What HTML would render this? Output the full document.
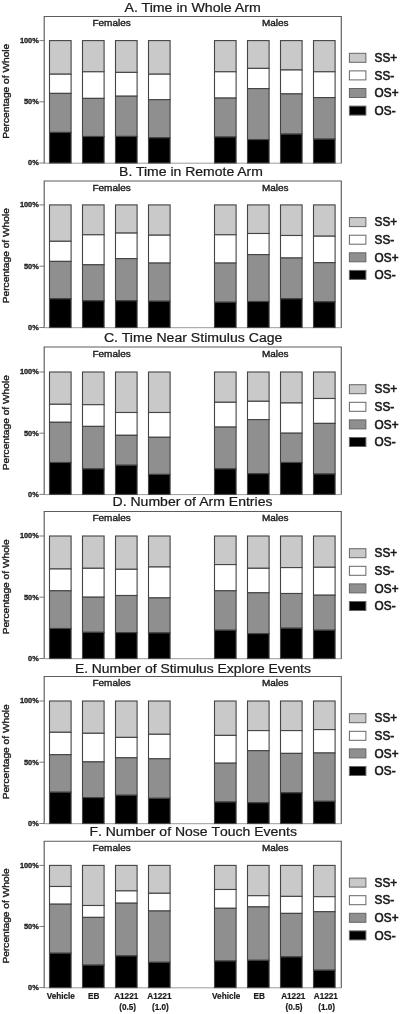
<!DOCTYPE html>
<html lang="en"><head><meta charset="utf-8"><title>Figure</title>
<style>html,body{margin:0;padding:0;background:#fff}svg{display:block;filter:blur(0.4px)}text{font-family:"Liberation Sans",sans-serif;fill:#1a1a1a;stroke:#1a1a1a;stroke-width:0.4px}.ti{font-size:14.2px;stroke-width:0.25px;text-anchor:middle}.sx{font-size:10px;text-anchor:middle}.yl{font-size:10.2px;text-anchor:middle}.yt{font-size:7.4px;stroke-width:0.3px;font-weight:bold;text-anchor:end}.lg{font-size:11.8px;stroke-width:0.6px}.xl{font-size:8.2px;stroke-width:0.2px;font-weight:bold;text-anchor:middle}</style></head><body>
<svg width="400" height="1014" viewBox="0 0 400 1014">
<rect width="400" height="1014" fill="#fff"/>
<g>
<text class="ti" style="font-size:14.2px" transform="translate(192.6,11.6) scale(1,0.94)">A. Time in Whole Arm</text>
<path d="M44.2 163.4V16.5H341.3V163.4" fill="none" stroke="#5c5c5c" stroke-width="1.15"/>
<line x1="44.2" x2="341.3" y1="163.2" y2="163.2" stroke="#9c9c9c" stroke-width="1"/>
<line x1="39.4" x2="44.2" y1="40.6" y2="40.6" stroke="#5c5c5c" stroke-width="0.8"/>
<text class="yt" x="38.8" y="42.9">100%</text>
<line x1="39.4" x2="44.2" y1="101.8" y2="101.8" stroke="#5c5c5c" stroke-width="0.8"/>
<text class="yt" x="38.8" y="104.1">50%</text>
<line x1="39.4" x2="44.2" y1="163.0" y2="163.0" stroke="#5c5c5c" stroke-width="0.8"/>
<text class="yt" x="38.8" y="165.3">0%</text>
<text class="yl" transform="translate(9.3,91.3) rotate(-90) scale(1,0.9)">Percentage of Whole</text>
<text class="sx" transform="translate(111.6,26.3) scale(1,0.89)">Females</text>
<text class="sx" transform="translate(275.2,26.3) scale(1,0.89)">Males</text>
<rect x="49.5" y="40.6" width="21.6" height="33.6" fill="#c9c9c9" stroke="#444" stroke-width="1.1"/>
<rect x="49.5" y="74.2" width="21.6" height="19.2" fill="#ffffff" stroke="#444" stroke-width="1.1"/>
<rect x="49.5" y="93.4" width="21.6" height="39.0" fill="#8f8f8f" stroke="#444" stroke-width="1.1"/>
<rect x="49.5" y="132.4" width="21.6" height="30.6" fill="#000000" stroke="#444" stroke-width="1.1"/>
<rect x="82.5" y="40.6" width="21.6" height="31.2" fill="#c9c9c9" stroke="#444" stroke-width="1.1"/>
<rect x="82.5" y="71.8" width="21.6" height="26.6" fill="#ffffff" stroke="#444" stroke-width="1.1"/>
<rect x="82.5" y="98.4" width="21.6" height="38.1" fill="#8f8f8f" stroke="#444" stroke-width="1.1"/>
<rect x="82.5" y="136.5" width="21.6" height="26.5" fill="#000000" stroke="#444" stroke-width="1.1"/>
<rect x="115.5" y="40.6" width="21.6" height="31.8" fill="#c9c9c9" stroke="#444" stroke-width="1.1"/>
<rect x="115.5" y="72.4" width="21.6" height="23.8" fill="#ffffff" stroke="#444" stroke-width="1.1"/>
<rect x="115.5" y="96.2" width="21.6" height="40.2" fill="#8f8f8f" stroke="#444" stroke-width="1.1"/>
<rect x="115.5" y="136.4" width="21.6" height="26.6" fill="#000000" stroke="#444" stroke-width="1.1"/>
<rect x="148.5" y="40.6" width="21.6" height="33.6" fill="#c9c9c9" stroke="#444" stroke-width="1.1"/>
<rect x="148.5" y="74.2" width="21.6" height="25.5" fill="#ffffff" stroke="#444" stroke-width="1.1"/>
<rect x="148.5" y="99.7" width="21.6" height="38.1" fill="#8f8f8f" stroke="#444" stroke-width="1.1"/>
<rect x="148.5" y="137.8" width="21.6" height="25.2" fill="#000000" stroke="#444" stroke-width="1.1"/>
<rect x="214.5" y="40.6" width="21.6" height="31.2" fill="#c9c9c9" stroke="#444" stroke-width="1.1"/>
<rect x="214.5" y="71.8" width="21.6" height="26.3" fill="#ffffff" stroke="#444" stroke-width="1.1"/>
<rect x="214.5" y="98.1" width="21.6" height="38.9" fill="#8f8f8f" stroke="#444" stroke-width="1.1"/>
<rect x="214.5" y="137.0" width="21.6" height="26.0" fill="#000000" stroke="#444" stroke-width="1.1"/>
<rect x="247.5" y="40.6" width="21.6" height="27.8" fill="#c9c9c9" stroke="#444" stroke-width="1.1"/>
<rect x="247.5" y="68.4" width="21.6" height="20.2" fill="#ffffff" stroke="#444" stroke-width="1.1"/>
<rect x="247.5" y="88.6" width="21.6" height="51.0" fill="#8f8f8f" stroke="#444" stroke-width="1.1"/>
<rect x="247.5" y="139.6" width="21.6" height="23.4" fill="#000000" stroke="#444" stroke-width="1.1"/>
<rect x="280.5" y="40.6" width="21.6" height="29.4" fill="#c9c9c9" stroke="#444" stroke-width="1.1"/>
<rect x="280.5" y="70.0" width="21.6" height="23.9" fill="#ffffff" stroke="#444" stroke-width="1.1"/>
<rect x="280.5" y="93.9" width="21.6" height="40.2" fill="#8f8f8f" stroke="#444" stroke-width="1.1"/>
<rect x="280.5" y="134.1" width="21.6" height="28.9" fill="#000000" stroke="#444" stroke-width="1.1"/>
<rect x="313.5" y="40.6" width="21.6" height="31.2" fill="#c9c9c9" stroke="#444" stroke-width="1.1"/>
<rect x="313.5" y="71.8" width="21.6" height="25.8" fill="#ffffff" stroke="#444" stroke-width="1.1"/>
<rect x="313.5" y="97.6" width="21.6" height="41.5" fill="#8f8f8f" stroke="#444" stroke-width="1.1"/>
<rect x="313.5" y="139.1" width="21.6" height="23.9" fill="#000000" stroke="#444" stroke-width="1.1"/>
<rect x="349.4" y="53.3" width="16.5" height="9.0" fill="#c9c9c9" stroke="#666" stroke-width="1"/>
<text class="lg" transform="translate(374.6,62.0) scale(1,1.07)">SS+</text>
<rect x="349.4" y="70.9" width="16.5" height="9.0" fill="#ffffff" stroke="#666" stroke-width="1"/>
<text class="lg" transform="translate(374.6,79.6) scale(1,1.07)">SS-</text>
<rect x="349.4" y="88.5" width="16.5" height="9.0" fill="#8f8f8f" stroke="#666" stroke-width="1"/>
<text class="lg" transform="translate(374.6,97.2) scale(1,1.07)">OS+</text>
<rect x="349.4" y="106.1" width="16.5" height="9.0" fill="#000000" stroke="#666" stroke-width="1"/>
<text class="lg" transform="translate(374.6,114.8) scale(1,1.07)">OS-</text>
</g>
<g>
<text class="ti" style="font-size:14.0px" transform="translate(191,175.8) scale(1,0.94)">B. Time in Remote Arm</text>
<path d="M44.2 327.9V181.0H341.3V327.9" fill="none" stroke="#5c5c5c" stroke-width="1.15"/>
<line x1="44.2" x2="341.3" y1="327.7" y2="327.7" stroke="#9c9c9c" stroke-width="1"/>
<line x1="39.4" x2="44.2" y1="204.9" y2="204.9" stroke="#5c5c5c" stroke-width="0.8"/>
<text class="yt" x="38.8" y="207.2">100%</text>
<line x1="39.4" x2="44.2" y1="266.2" y2="266.2" stroke="#5c5c5c" stroke-width="0.8"/>
<text class="yt" x="38.8" y="268.5">50%</text>
<line x1="39.4" x2="44.2" y1="327.5" y2="327.5" stroke="#5c5c5c" stroke-width="0.8"/>
<text class="yt" x="38.8" y="329.8">0%</text>
<text class="yl" transform="translate(9.3,255.7) rotate(-90) scale(1,0.9)">Percentage of Whole</text>
<text class="sx" transform="translate(111.6,190.8) scale(1,0.89)">Females</text>
<text class="sx" transform="translate(275.2,190.8) scale(1,0.89)">Males</text>
<rect x="49.5" y="204.9" width="21.6" height="36.4" fill="#c9c9c9" stroke="#444" stroke-width="1.1"/>
<rect x="49.5" y="241.3" width="21.6" height="20.1" fill="#ffffff" stroke="#444" stroke-width="1.1"/>
<rect x="49.5" y="261.4" width="21.6" height="37.4" fill="#8f8f8f" stroke="#444" stroke-width="1.1"/>
<rect x="49.5" y="298.8" width="21.6" height="28.7" fill="#000000" stroke="#444" stroke-width="1.1"/>
<rect x="82.5" y="204.9" width="21.6" height="29.9" fill="#c9c9c9" stroke="#444" stroke-width="1.1"/>
<rect x="82.5" y="234.8" width="21.6" height="30.0" fill="#ffffff" stroke="#444" stroke-width="1.1"/>
<rect x="82.5" y="264.8" width="21.6" height="36.0" fill="#8f8f8f" stroke="#444" stroke-width="1.1"/>
<rect x="82.5" y="300.8" width="21.6" height="26.7" fill="#000000" stroke="#444" stroke-width="1.1"/>
<rect x="115.5" y="204.9" width="21.6" height="28.2" fill="#c9c9c9" stroke="#444" stroke-width="1.1"/>
<rect x="115.5" y="233.1" width="21.6" height="25.5" fill="#ffffff" stroke="#444" stroke-width="1.1"/>
<rect x="115.5" y="258.6" width="21.6" height="42.2" fill="#8f8f8f" stroke="#444" stroke-width="1.1"/>
<rect x="115.5" y="300.8" width="21.6" height="26.7" fill="#000000" stroke="#444" stroke-width="1.1"/>
<rect x="148.5" y="204.9" width="21.6" height="30.3" fill="#c9c9c9" stroke="#444" stroke-width="1.1"/>
<rect x="148.5" y="235.2" width="21.6" height="27.9" fill="#ffffff" stroke="#444" stroke-width="1.1"/>
<rect x="148.5" y="263.1" width="21.6" height="38.1" fill="#8f8f8f" stroke="#444" stroke-width="1.1"/>
<rect x="148.5" y="301.2" width="21.6" height="26.3" fill="#000000" stroke="#444" stroke-width="1.1"/>
<rect x="214.5" y="204.9" width="21.6" height="29.9" fill="#c9c9c9" stroke="#444" stroke-width="1.1"/>
<rect x="214.5" y="234.8" width="21.6" height="28.3" fill="#ffffff" stroke="#444" stroke-width="1.1"/>
<rect x="214.5" y="263.1" width="21.6" height="39.1" fill="#8f8f8f" stroke="#444" stroke-width="1.1"/>
<rect x="214.5" y="302.2" width="21.6" height="25.3" fill="#000000" stroke="#444" stroke-width="1.1"/>
<rect x="247.5" y="204.9" width="21.6" height="28.6" fill="#c9c9c9" stroke="#444" stroke-width="1.1"/>
<rect x="247.5" y="233.5" width="21.6" height="21.1" fill="#ffffff" stroke="#444" stroke-width="1.1"/>
<rect x="247.5" y="254.6" width="21.6" height="46.9" fill="#8f8f8f" stroke="#444" stroke-width="1.1"/>
<rect x="247.5" y="301.5" width="21.6" height="26.0" fill="#000000" stroke="#444" stroke-width="1.1"/>
<rect x="280.5" y="204.9" width="21.6" height="30.6" fill="#c9c9c9" stroke="#444" stroke-width="1.1"/>
<rect x="280.5" y="235.5" width="21.6" height="22.5" fill="#ffffff" stroke="#444" stroke-width="1.1"/>
<rect x="280.5" y="258.0" width="21.6" height="40.8" fill="#8f8f8f" stroke="#444" stroke-width="1.1"/>
<rect x="280.5" y="298.8" width="21.6" height="28.7" fill="#000000" stroke="#444" stroke-width="1.1"/>
<rect x="313.5" y="204.9" width="21.6" height="31.3" fill="#c9c9c9" stroke="#444" stroke-width="1.1"/>
<rect x="313.5" y="236.2" width="21.6" height="26.5" fill="#ffffff" stroke="#444" stroke-width="1.1"/>
<rect x="313.5" y="262.7" width="21.6" height="39.1" fill="#8f8f8f" stroke="#444" stroke-width="1.1"/>
<rect x="313.5" y="301.8" width="21.6" height="25.7" fill="#000000" stroke="#444" stroke-width="1.1"/>
<rect x="349.4" y="217.6" width="16.5" height="9.0" fill="#c9c9c9" stroke="#666" stroke-width="1"/>
<text class="lg" transform="translate(374.6,226.3) scale(1,1.07)">SS+</text>
<rect x="349.4" y="235.2" width="16.5" height="9.0" fill="#ffffff" stroke="#666" stroke-width="1"/>
<text class="lg" transform="translate(374.6,243.9) scale(1,1.07)">SS-</text>
<rect x="349.4" y="252.8" width="16.5" height="9.0" fill="#8f8f8f" stroke="#666" stroke-width="1"/>
<text class="lg" transform="translate(374.6,261.5) scale(1,1.07)">OS+</text>
<rect x="349.4" y="270.4" width="16.5" height="9.0" fill="#000000" stroke="#666" stroke-width="1"/>
<text class="lg" transform="translate(374.6,279.1) scale(1,1.07)">OS-</text>
</g>
<g>
<text class="ti" style="font-size:14.1px" transform="translate(193.2,341.6) scale(1,0.94)">C. Time Near Stimulus Cage</text>
<path d="M44.2 494.8V347.0H341.3V494.8" fill="none" stroke="#5c5c5c" stroke-width="1.15"/>
<line x1="44.2" x2="341.3" y1="494.6" y2="494.6" stroke="#9c9c9c" stroke-width="1"/>
<line x1="39.4" x2="44.2" y1="372.0" y2="372.0" stroke="#5c5c5c" stroke-width="0.8"/>
<text class="yt" x="38.8" y="374.3">100%</text>
<line x1="39.4" x2="44.2" y1="433.2" y2="433.2" stroke="#5c5c5c" stroke-width="0.8"/>
<text class="yt" x="38.8" y="435.5">50%</text>
<line x1="39.4" x2="44.2" y1="494.4" y2="494.4" stroke="#5c5c5c" stroke-width="0.8"/>
<text class="yt" x="38.8" y="496.7">0%</text>
<text class="yl" transform="translate(9.3,422.7) rotate(-90) scale(1,0.9)">Percentage of Whole</text>
<text class="sx" transform="translate(111.6,356.8) scale(1,0.89)">Females</text>
<text class="sx" transform="translate(275.2,356.8) scale(1,0.89)">Males</text>
<rect x="49.5" y="372.0" width="21.6" height="32.3" fill="#c9c9c9" stroke="#444" stroke-width="1.1"/>
<rect x="49.5" y="404.3" width="21.6" height="18.0" fill="#ffffff" stroke="#444" stroke-width="1.1"/>
<rect x="49.5" y="422.3" width="21.6" height="40.2" fill="#8f8f8f" stroke="#444" stroke-width="1.1"/>
<rect x="49.5" y="462.5" width="21.6" height="31.9" fill="#000000" stroke="#444" stroke-width="1.1"/>
<rect x="82.5" y="372.0" width="21.6" height="32.7" fill="#c9c9c9" stroke="#444" stroke-width="1.1"/>
<rect x="82.5" y="404.7" width="21.6" height="21.7" fill="#ffffff" stroke="#444" stroke-width="1.1"/>
<rect x="82.5" y="426.4" width="21.6" height="42.5" fill="#8f8f8f" stroke="#444" stroke-width="1.1"/>
<rect x="82.5" y="468.9" width="21.6" height="25.5" fill="#000000" stroke="#444" stroke-width="1.1"/>
<rect x="115.5" y="372.0" width="21.6" height="40.5" fill="#c9c9c9" stroke="#444" stroke-width="1.1"/>
<rect x="115.5" y="412.5" width="21.6" height="22.8" fill="#ffffff" stroke="#444" stroke-width="1.1"/>
<rect x="115.5" y="435.3" width="21.6" height="29.9" fill="#8f8f8f" stroke="#444" stroke-width="1.1"/>
<rect x="115.5" y="465.2" width="21.6" height="29.2" fill="#000000" stroke="#444" stroke-width="1.1"/>
<rect x="148.5" y="372.0" width="21.6" height="40.5" fill="#c9c9c9" stroke="#444" stroke-width="1.1"/>
<rect x="148.5" y="412.5" width="21.6" height="24.8" fill="#ffffff" stroke="#444" stroke-width="1.1"/>
<rect x="148.5" y="437.3" width="21.6" height="37.1" fill="#8f8f8f" stroke="#444" stroke-width="1.1"/>
<rect x="148.5" y="474.4" width="21.6" height="20.0" fill="#000000" stroke="#444" stroke-width="1.1"/>
<rect x="214.5" y="372.0" width="21.6" height="30.3" fill="#c9c9c9" stroke="#444" stroke-width="1.1"/>
<rect x="214.5" y="402.3" width="21.6" height="24.8" fill="#ffffff" stroke="#444" stroke-width="1.1"/>
<rect x="214.5" y="427.1" width="21.6" height="41.8" fill="#8f8f8f" stroke="#444" stroke-width="1.1"/>
<rect x="214.5" y="468.9" width="21.6" height="25.5" fill="#000000" stroke="#444" stroke-width="1.1"/>
<rect x="247.5" y="372.0" width="21.6" height="29.3" fill="#c9c9c9" stroke="#444" stroke-width="1.1"/>
<rect x="247.5" y="401.3" width="21.6" height="18.3" fill="#ffffff" stroke="#444" stroke-width="1.1"/>
<rect x="247.5" y="419.6" width="21.6" height="54.1" fill="#8f8f8f" stroke="#444" stroke-width="1.1"/>
<rect x="247.5" y="473.7" width="21.6" height="20.7" fill="#000000" stroke="#444" stroke-width="1.1"/>
<rect x="280.5" y="372.0" width="21.6" height="31.0" fill="#c9c9c9" stroke="#444" stroke-width="1.1"/>
<rect x="280.5" y="403.0" width="21.6" height="30.2" fill="#ffffff" stroke="#444" stroke-width="1.1"/>
<rect x="280.5" y="433.2" width="21.6" height="29.3" fill="#8f8f8f" stroke="#444" stroke-width="1.1"/>
<rect x="280.5" y="462.5" width="21.6" height="31.9" fill="#000000" stroke="#444" stroke-width="1.1"/>
<rect x="313.5" y="372.0" width="21.6" height="26.5" fill="#c9c9c9" stroke="#444" stroke-width="1.1"/>
<rect x="313.5" y="398.5" width="21.6" height="24.9" fill="#ffffff" stroke="#444" stroke-width="1.1"/>
<rect x="313.5" y="423.4" width="21.6" height="50.6" fill="#8f8f8f" stroke="#444" stroke-width="1.1"/>
<rect x="313.5" y="474.0" width="21.6" height="20.4" fill="#000000" stroke="#444" stroke-width="1.1"/>
<rect x="349.4" y="384.7" width="16.5" height="9.0" fill="#c9c9c9" stroke="#666" stroke-width="1"/>
<text class="lg" transform="translate(374.6,393.4) scale(1,1.07)">SS+</text>
<rect x="349.4" y="402.3" width="16.5" height="9.0" fill="#ffffff" stroke="#666" stroke-width="1"/>
<text class="lg" transform="translate(374.6,411.0) scale(1,1.07)">SS-</text>
<rect x="349.4" y="419.9" width="16.5" height="9.0" fill="#8f8f8f" stroke="#666" stroke-width="1"/>
<text class="lg" transform="translate(374.6,428.6) scale(1,1.07)">OS+</text>
<rect x="349.4" y="437.5" width="16.5" height="9.0" fill="#000000" stroke="#666" stroke-width="1"/>
<text class="lg" transform="translate(374.6,446.2) scale(1,1.07)">OS-</text>
</g>
<g>
<text class="ti" style="font-size:14.05px" transform="translate(192.5,506.3) scale(1,0.94)">D. Number of Arm Entries</text>
<path d="M44.2 658.9V511.5H341.3V658.9" fill="none" stroke="#5c5c5c" stroke-width="1.15"/>
<line x1="44.2" x2="341.3" y1="658.7" y2="658.7" stroke="#9c9c9c" stroke-width="1"/>
<line x1="39.4" x2="44.2" y1="536.0" y2="536.0" stroke="#5c5c5c" stroke-width="0.8"/>
<text class="yt" x="38.8" y="538.3">100%</text>
<line x1="39.4" x2="44.2" y1="597.2" y2="597.2" stroke="#5c5c5c" stroke-width="0.8"/>
<text class="yt" x="38.8" y="599.5">50%</text>
<line x1="39.4" x2="44.2" y1="658.5" y2="658.5" stroke="#5c5c5c" stroke-width="0.8"/>
<text class="yt" x="38.8" y="660.8">0%</text>
<text class="yl" transform="translate(9.3,586.8) rotate(-90) scale(1,0.9)">Percentage of Whole</text>
<text class="sx" transform="translate(111.6,521.3) scale(1,0.89)">Females</text>
<text class="sx" transform="translate(275.2,521.3) scale(1,0.89)">Males</text>
<rect x="49.5" y="536.0" width="21.6" height="33.0" fill="#c9c9c9" stroke="#444" stroke-width="1.1"/>
<rect x="49.5" y="569.0" width="21.6" height="21.8" fill="#ffffff" stroke="#444" stroke-width="1.1"/>
<rect x="49.5" y="590.8" width="21.6" height="37.7" fill="#8f8f8f" stroke="#444" stroke-width="1.1"/>
<rect x="49.5" y="628.5" width="21.6" height="30.0" fill="#000000" stroke="#444" stroke-width="1.1"/>
<rect x="82.5" y="536.0" width="21.6" height="32.3" fill="#c9c9c9" stroke="#444" stroke-width="1.1"/>
<rect x="82.5" y="568.3" width="21.6" height="28.9" fill="#ffffff" stroke="#444" stroke-width="1.1"/>
<rect x="82.5" y="597.2" width="21.6" height="35.1" fill="#8f8f8f" stroke="#444" stroke-width="1.1"/>
<rect x="82.5" y="632.3" width="21.6" height="26.2" fill="#000000" stroke="#444" stroke-width="1.1"/>
<rect x="115.5" y="536.0" width="21.6" height="33.3" fill="#c9c9c9" stroke="#444" stroke-width="1.1"/>
<rect x="115.5" y="569.3" width="21.6" height="26.2" fill="#ffffff" stroke="#444" stroke-width="1.1"/>
<rect x="115.5" y="595.5" width="21.6" height="37.1" fill="#8f8f8f" stroke="#444" stroke-width="1.1"/>
<rect x="115.5" y="632.6" width="21.6" height="25.9" fill="#000000" stroke="#444" stroke-width="1.1"/>
<rect x="148.5" y="536.0" width="21.6" height="31.0" fill="#c9c9c9" stroke="#444" stroke-width="1.1"/>
<rect x="148.5" y="567.0" width="21.6" height="30.9" fill="#ffffff" stroke="#444" stroke-width="1.1"/>
<rect x="148.5" y="597.9" width="21.6" height="35.0" fill="#8f8f8f" stroke="#444" stroke-width="1.1"/>
<rect x="148.5" y="632.9" width="21.6" height="25.6" fill="#000000" stroke="#444" stroke-width="1.1"/>
<rect x="214.5" y="536.0" width="21.6" height="28.6" fill="#c9c9c9" stroke="#444" stroke-width="1.1"/>
<rect x="214.5" y="564.6" width="21.6" height="26.2" fill="#ffffff" stroke="#444" stroke-width="1.1"/>
<rect x="214.5" y="590.8" width="21.6" height="39.4" fill="#8f8f8f" stroke="#444" stroke-width="1.1"/>
<rect x="214.5" y="630.2" width="21.6" height="28.3" fill="#000000" stroke="#444" stroke-width="1.1"/>
<rect x="247.5" y="536.0" width="21.6" height="32.3" fill="#c9c9c9" stroke="#444" stroke-width="1.1"/>
<rect x="247.5" y="568.3" width="21.6" height="24.5" fill="#ffffff" stroke="#444" stroke-width="1.1"/>
<rect x="247.5" y="592.8" width="21.6" height="40.8" fill="#8f8f8f" stroke="#444" stroke-width="1.1"/>
<rect x="247.5" y="633.6" width="21.6" height="24.9" fill="#000000" stroke="#444" stroke-width="1.1"/>
<rect x="280.5" y="536.0" width="21.6" height="31.6" fill="#c9c9c9" stroke="#444" stroke-width="1.1"/>
<rect x="280.5" y="567.6" width="21.6" height="25.9" fill="#ffffff" stroke="#444" stroke-width="1.1"/>
<rect x="280.5" y="593.5" width="21.6" height="34.7" fill="#8f8f8f" stroke="#444" stroke-width="1.1"/>
<rect x="280.5" y="628.2" width="21.6" height="30.3" fill="#000000" stroke="#444" stroke-width="1.1"/>
<rect x="313.5" y="536.0" width="21.6" height="31.3" fill="#c9c9c9" stroke="#444" stroke-width="1.1"/>
<rect x="313.5" y="567.3" width="21.6" height="27.9" fill="#ffffff" stroke="#444" stroke-width="1.1"/>
<rect x="313.5" y="595.2" width="21.6" height="35.0" fill="#8f8f8f" stroke="#444" stroke-width="1.1"/>
<rect x="313.5" y="630.2" width="21.6" height="28.3" fill="#000000" stroke="#444" stroke-width="1.1"/>
<rect x="349.4" y="548.7" width="16.5" height="9.0" fill="#c9c9c9" stroke="#666" stroke-width="1"/>
<text class="lg" transform="translate(374.6,557.4) scale(1,1.07)">SS+</text>
<rect x="349.4" y="566.3" width="16.5" height="9.0" fill="#ffffff" stroke="#666" stroke-width="1"/>
<text class="lg" transform="translate(374.6,575.0) scale(1,1.07)">SS-</text>
<rect x="349.4" y="583.9" width="16.5" height="9.0" fill="#8f8f8f" stroke="#666" stroke-width="1"/>
<text class="lg" transform="translate(374.6,592.6) scale(1,1.07)">OS+</text>
<rect x="349.4" y="601.5" width="16.5" height="9.0" fill="#000000" stroke="#666" stroke-width="1"/>
<text class="lg" transform="translate(374.6,610.2) scale(1,1.07)">OS-</text>
</g>
<g>
<text class="ti" style="font-size:13.9px" transform="translate(192.9,672.8) scale(1,0.94)">E. Number of Stimulus Explore Events</text>
<path d="M44.2 823.9V676.5H341.3V823.9" fill="none" stroke="#5c5c5c" stroke-width="1.15"/>
<line x1="44.2" x2="341.3" y1="823.7" y2="823.7" stroke="#9c9c9c" stroke-width="1"/>
<line x1="39.4" x2="44.2" y1="701.0" y2="701.0" stroke="#5c5c5c" stroke-width="0.8"/>
<text class="yt" x="38.8" y="703.3">100%</text>
<line x1="39.4" x2="44.2" y1="762.2" y2="762.2" stroke="#5c5c5c" stroke-width="0.8"/>
<text class="yt" x="38.8" y="764.5">50%</text>
<line x1="39.4" x2="44.2" y1="823.5" y2="823.5" stroke="#5c5c5c" stroke-width="0.8"/>
<text class="yt" x="38.8" y="825.8">0%</text>
<text class="yl" transform="translate(9.3,751.8) rotate(-90) scale(1,0.9)">Percentage of Whole</text>
<text class="sx" transform="translate(111.6,686.3) scale(1,0.89)">Females</text>
<text class="sx" transform="translate(275.2,686.3) scale(1,0.89)">Males</text>
<rect x="49.5" y="701.0" width="21.6" height="31.3" fill="#c9c9c9" stroke="#444" stroke-width="1.1"/>
<rect x="49.5" y="732.3" width="21.6" height="22.4" fill="#ffffff" stroke="#444" stroke-width="1.1"/>
<rect x="49.5" y="754.7" width="21.6" height="37.5" fill="#8f8f8f" stroke="#444" stroke-width="1.1"/>
<rect x="49.5" y="792.2" width="21.6" height="31.3" fill="#000000" stroke="#444" stroke-width="1.1"/>
<rect x="82.5" y="701.0" width="21.6" height="32.3" fill="#c9c9c9" stroke="#444" stroke-width="1.1"/>
<rect x="82.5" y="733.3" width="21.6" height="28.6" fill="#ffffff" stroke="#444" stroke-width="1.1"/>
<rect x="82.5" y="761.9" width="21.6" height="35.7" fill="#8f8f8f" stroke="#444" stroke-width="1.1"/>
<rect x="82.5" y="797.6" width="21.6" height="25.9" fill="#000000" stroke="#444" stroke-width="1.1"/>
<rect x="115.5" y="701.0" width="21.6" height="36.4" fill="#c9c9c9" stroke="#444" stroke-width="1.1"/>
<rect x="115.5" y="737.4" width="21.6" height="20.4" fill="#ffffff" stroke="#444" stroke-width="1.1"/>
<rect x="115.5" y="757.8" width="21.6" height="37.4" fill="#8f8f8f" stroke="#444" stroke-width="1.1"/>
<rect x="115.5" y="795.2" width="21.6" height="28.3" fill="#000000" stroke="#444" stroke-width="1.1"/>
<rect x="148.5" y="701.0" width="21.6" height="33.3" fill="#c9c9c9" stroke="#444" stroke-width="1.1"/>
<rect x="148.5" y="734.3" width="21.6" height="24.5" fill="#ffffff" stroke="#444" stroke-width="1.1"/>
<rect x="148.5" y="758.8" width="21.6" height="39.5" fill="#8f8f8f" stroke="#444" stroke-width="1.1"/>
<rect x="148.5" y="798.3" width="21.6" height="25.2" fill="#000000" stroke="#444" stroke-width="1.1"/>
<rect x="214.5" y="701.0" width="21.6" height="34.4" fill="#c9c9c9" stroke="#444" stroke-width="1.1"/>
<rect x="214.5" y="735.4" width="21.6" height="27.8" fill="#ffffff" stroke="#444" stroke-width="1.1"/>
<rect x="214.5" y="763.2" width="21.6" height="38.8" fill="#8f8f8f" stroke="#444" stroke-width="1.1"/>
<rect x="214.5" y="802.0" width="21.6" height="21.5" fill="#000000" stroke="#444" stroke-width="1.1"/>
<rect x="247.5" y="701.0" width="21.6" height="29.6" fill="#c9c9c9" stroke="#444" stroke-width="1.1"/>
<rect x="247.5" y="730.6" width="21.6" height="20.1" fill="#ffffff" stroke="#444" stroke-width="1.1"/>
<rect x="247.5" y="750.7" width="21.6" height="52.0" fill="#8f8f8f" stroke="#444" stroke-width="1.1"/>
<rect x="247.5" y="802.7" width="21.6" height="20.8" fill="#000000" stroke="#444" stroke-width="1.1"/>
<rect x="280.5" y="701.0" width="21.6" height="29.6" fill="#c9c9c9" stroke="#444" stroke-width="1.1"/>
<rect x="280.5" y="730.6" width="21.6" height="22.8" fill="#ffffff" stroke="#444" stroke-width="1.1"/>
<rect x="280.5" y="753.4" width="21.6" height="39.4" fill="#8f8f8f" stroke="#444" stroke-width="1.1"/>
<rect x="280.5" y="792.8" width="21.6" height="30.7" fill="#000000" stroke="#444" stroke-width="1.1"/>
<rect x="313.5" y="701.0" width="21.6" height="28.6" fill="#c9c9c9" stroke="#444" stroke-width="1.1"/>
<rect x="313.5" y="729.6" width="21.6" height="23.4" fill="#ffffff" stroke="#444" stroke-width="1.1"/>
<rect x="313.5" y="753.0" width="21.6" height="48.3" fill="#8f8f8f" stroke="#444" stroke-width="1.1"/>
<rect x="313.5" y="801.3" width="21.6" height="22.2" fill="#000000" stroke="#444" stroke-width="1.1"/>
<rect x="349.4" y="713.7" width="16.5" height="9.0" fill="#c9c9c9" stroke="#666" stroke-width="1"/>
<text class="lg" transform="translate(374.6,722.4) scale(1,1.07)">SS+</text>
<rect x="349.4" y="731.3" width="16.5" height="9.0" fill="#ffffff" stroke="#666" stroke-width="1"/>
<text class="lg" transform="translate(374.6,740.0) scale(1,1.07)">SS-</text>
<rect x="349.4" y="748.9" width="16.5" height="9.0" fill="#8f8f8f" stroke="#666" stroke-width="1"/>
<text class="lg" transform="translate(374.6,757.6) scale(1,1.07)">OS+</text>
<rect x="349.4" y="766.5" width="16.5" height="9.0" fill="#000000" stroke="#666" stroke-width="1"/>
<text class="lg" transform="translate(374.6,775.2) scale(1,1.07)">OS-</text>
</g>
<g>
<text class="ti" style="font-size:14.0px;font-kerning:none" transform="translate(193.2,836.2) scale(1,0.94)">F. Number of Nose Touch Events</text>
<path d="M44.2 988.0V841.2H341.3V988.0" fill="none" stroke="#5c5c5c" stroke-width="1.15"/>
<line x1="44.2" x2="341.3" y1="987.8" y2="987.8" stroke="#9c9c9c" stroke-width="1"/>
<line x1="39.4" x2="44.2" y1="865.4" y2="865.4" stroke="#5c5c5c" stroke-width="0.8"/>
<text class="yt" x="38.8" y="867.7">100%</text>
<line x1="39.4" x2="44.2" y1="926.5" y2="926.5" stroke="#5c5c5c" stroke-width="0.8"/>
<text class="yt" x="38.8" y="928.8">50%</text>
<line x1="39.4" x2="44.2" y1="987.6" y2="987.6" stroke="#5c5c5c" stroke-width="0.8"/>
<text class="yt" x="38.8" y="989.9">0%</text>
<text class="yl" transform="translate(9.3,916.0) rotate(-90) scale(1,0.9)">Percentage of Whole</text>
<text class="sx" transform="translate(111.6,851.0) scale(1,0.89)">Females</text>
<text class="sx" transform="translate(275.2,851.0) scale(1,0.89)">Males</text>
<rect x="49.5" y="865.4" width="21.6" height="21.1" fill="#c9c9c9" stroke="#444" stroke-width="1.1"/>
<rect x="49.5" y="886.5" width="21.6" height="17.7" fill="#ffffff" stroke="#444" stroke-width="1.1"/>
<rect x="49.5" y="904.2" width="21.6" height="49.0" fill="#8f8f8f" stroke="#444" stroke-width="1.1"/>
<rect x="49.5" y="953.2" width="21.6" height="34.4" fill="#000000" stroke="#444" stroke-width="1.1"/>
<rect x="82.5" y="865.4" width="21.6" height="40.1" fill="#c9c9c9" stroke="#444" stroke-width="1.1"/>
<rect x="82.5" y="905.5" width="21.6" height="11.9" fill="#ffffff" stroke="#444" stroke-width="1.1"/>
<rect x="82.5" y="917.4" width="21.6" height="47.7" fill="#8f8f8f" stroke="#444" stroke-width="1.1"/>
<rect x="82.5" y="965.1" width="21.6" height="22.5" fill="#000000" stroke="#444" stroke-width="1.1"/>
<rect x="115.5" y="865.4" width="21.6" height="25.5" fill="#c9c9c9" stroke="#444" stroke-width="1.1"/>
<rect x="115.5" y="890.9" width="21.6" height="12.3" fill="#ffffff" stroke="#444" stroke-width="1.1"/>
<rect x="115.5" y="903.2" width="21.6" height="52.7" fill="#8f8f8f" stroke="#444" stroke-width="1.1"/>
<rect x="115.5" y="955.9" width="21.6" height="31.7" fill="#000000" stroke="#444" stroke-width="1.1"/>
<rect x="148.5" y="865.4" width="21.6" height="27.9" fill="#c9c9c9" stroke="#444" stroke-width="1.1"/>
<rect x="148.5" y="893.3" width="21.6" height="17.7" fill="#ffffff" stroke="#444" stroke-width="1.1"/>
<rect x="148.5" y="911.0" width="21.6" height="51.3" fill="#8f8f8f" stroke="#444" stroke-width="1.1"/>
<rect x="148.5" y="962.3" width="21.6" height="25.3" fill="#000000" stroke="#444" stroke-width="1.1"/>
<rect x="214.5" y="865.4" width="21.6" height="24.1" fill="#c9c9c9" stroke="#444" stroke-width="1.1"/>
<rect x="214.5" y="889.5" width="21.6" height="18.8" fill="#ffffff" stroke="#444" stroke-width="1.1"/>
<rect x="214.5" y="908.3" width="21.6" height="52.7" fill="#8f8f8f" stroke="#444" stroke-width="1.1"/>
<rect x="214.5" y="961.0" width="21.6" height="26.6" fill="#000000" stroke="#444" stroke-width="1.1"/>
<rect x="247.5" y="865.4" width="21.6" height="30.3" fill="#c9c9c9" stroke="#444" stroke-width="1.1"/>
<rect x="247.5" y="895.7" width="21.6" height="11.2" fill="#ffffff" stroke="#444" stroke-width="1.1"/>
<rect x="247.5" y="906.9" width="21.6" height="53.4" fill="#8f8f8f" stroke="#444" stroke-width="1.1"/>
<rect x="247.5" y="960.3" width="21.6" height="27.3" fill="#000000" stroke="#444" stroke-width="1.1"/>
<rect x="280.5" y="865.4" width="21.6" height="31.0" fill="#c9c9c9" stroke="#444" stroke-width="1.1"/>
<rect x="280.5" y="896.4" width="21.6" height="17.0" fill="#ffffff" stroke="#444" stroke-width="1.1"/>
<rect x="280.5" y="913.4" width="21.6" height="43.5" fill="#8f8f8f" stroke="#444" stroke-width="1.1"/>
<rect x="280.5" y="956.9" width="21.6" height="30.7" fill="#000000" stroke="#444" stroke-width="1.1"/>
<rect x="313.5" y="865.4" width="21.6" height="31.3" fill="#c9c9c9" stroke="#444" stroke-width="1.1"/>
<rect x="313.5" y="896.7" width="21.6" height="15.0" fill="#ffffff" stroke="#444" stroke-width="1.1"/>
<rect x="313.5" y="911.7" width="21.6" height="58.5" fill="#8f8f8f" stroke="#444" stroke-width="1.1"/>
<rect x="313.5" y="970.2" width="21.6" height="17.4" fill="#000000" stroke="#444" stroke-width="1.1"/>
<rect x="349.4" y="878.1" width="16.5" height="9.0" fill="#c9c9c9" stroke="#666" stroke-width="1"/>
<text class="lg" transform="translate(374.6,886.8) scale(1,1.07)">SS+</text>
<rect x="349.4" y="895.7" width="16.5" height="9.0" fill="#ffffff" stroke="#666" stroke-width="1"/>
<text class="lg" transform="translate(374.6,904.4) scale(1,1.07)">SS-</text>
<rect x="349.4" y="913.3" width="16.5" height="9.0" fill="#8f8f8f" stroke="#666" stroke-width="1"/>
<text class="lg" transform="translate(374.6,922.0) scale(1,1.07)">OS+</text>
<rect x="349.4" y="930.9" width="16.5" height="9.0" fill="#000000" stroke="#666" stroke-width="1"/>
<text class="lg" transform="translate(374.6,939.6) scale(1,1.07)">OS-</text>
</g>
<text class="xl" x="60.8" y="999.4">Vehicle</text>
<text class="xl" x="93.8" y="999.4">EB</text>
<text class="xl" x="126.2" y="999.4">A1221</text>
<text class="xl" x="159.4" y="999.4">A1221</text>
<text class="xl" x="226.2" y="999.4">Vehicle</text>
<text class="xl" x="259.2" y="999.4">EB</text>
<text class="xl" x="293.2" y="999.4">A1221</text>
<text class="xl" x="325.8" y="999.4">A1221</text>
<text class="xl" x="127.6" y="1010.0">(0.5)</text>
<text class="xl" x="160.4" y="1010.0">(1.0)</text>
<text class="xl" x="294.0" y="1010.0">(0.5)</text>
<text class="xl" x="326.6" y="1010.0">(1.0)</text>
</svg></body></html>
